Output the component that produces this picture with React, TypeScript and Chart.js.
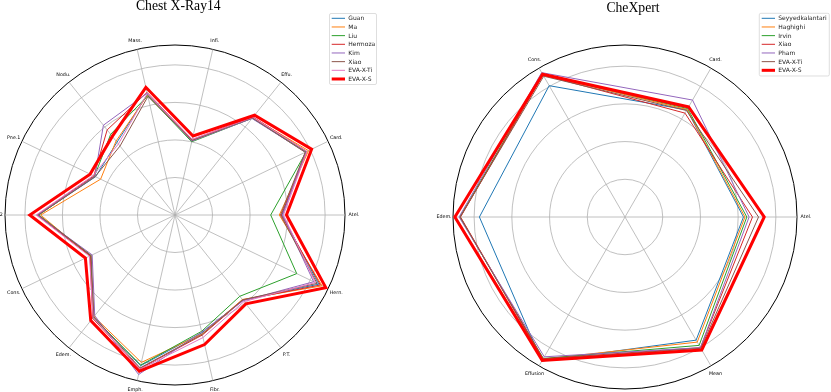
import React, { useEffect, useRef } from 'react';
import { Chart, registerables } from 'chart.js';

Chart.register(...registerables);

// ---------- Chest X-Ray14 (labels counter-clockwise from the right) ----------
const cxrLabels = ['Atel.', 'Card.', 'Effu.', 'Infi.', 'Mass.', 'Nodu.', 'Pne.1', 'Pne.2', 'Cons.', 'Edem.', 'Emph.', 'Fibr.', 'P.T.', 'Hern.'];
const cxrNames = ['Guan', 'Ma', 'Liu', 'Hermoza', 'Kim', 'Xiao', 'EVA-X-Ti', 'EVA-X-S'];
const cxrGuan = [0.785, 0.887, 0.830, 0.703, 0.830, 0.748, 0.735, 0.865, 0.750, 0.848, 0.912, 0.822, 0.790, 0.925];
const cxrMa = [0.778, 0.895, 0.832, 0.705, 0.828, 0.752, 0.720, 0.858, 0.752, 0.846, 0.903, 0.825, 0.788, 0.935];
const cxrLiu = [0.755, 0.888, 0.830, 0.700, 0.826, 0.775, 0.738, 0.863, 0.749, 0.850, 0.910, 0.818, 0.777, 0.860];
const cxrHermoza = [0.783, 0.890, 0.834, 0.706, 0.835, 0.790, 0.740, 0.868, 0.751, 0.852, 0.920, 0.828, 0.790, 0.930];
const cxrKim = [0.787, 0.886, 0.829, 0.702, 0.833, 0.806, 0.737, 0.867, 0.745, 0.843, 0.936, 0.820, 0.792, 0.910];
const cxrXiao = [0.781, 0.885, 0.831, 0.704, 0.824, 0.735, 0.736, 0.864, 0.748, 0.847, 0.918, 0.826, 0.789, 0.920];
const cxrEvaTi = [0.789, 0.890, 0.833, 0.707, 0.832, 0.742, 0.742, 0.870, 0.753, 0.850, 0.922, 0.835, 0.795, 0.915];
const cxrEvaS = [0.797, 0.904, 0.840, 0.716, 0.849, 0.768, 0.751, 0.887, 0.765, 0.860, 0.927, 0.854, 0.803, 0.946];
const cxrSeries = [cxrGuan, cxrMa, cxrLiu, cxrHermoza, cxrKim, cxrXiao, cxrEvaTi, cxrEvaS];
const cxrColors = ['#1f77b4', '#ff7f0e', '#2ca02c', '#d62728', '#9467bd', '#8c564b', '#e377c2', '#ff0000'];
const cxrMin = 0.5;
const cxrMax = 0.953;

// ---------- CheXpert ----------
const cxpLabels = ['Atel.', 'Card.', 'Cons.', 'Edem.', 'Effusion', 'Mean'];
const cxpNames = ['Seyyedkalantari', 'Haghighi', 'Irvin', 'Xiao', 'Pham', 'EVA-X-Ti', 'EVA-X-S'];
const cxpSeyyed = [0.814, 0.828, 0.902, 0.886, 0.941, 0.877];
const cxpHaghighi = [0.818, 0.829, 0.935, 0.937, 0.935, 0.883];
const cxpIrvin = [0.823, 0.832, 0.937, 0.938, 0.933, 0.893];
const cxpXiao = [0.838, 0.818, 0.935, 0.936, 0.934, 0.900];
const cxpPham = [0.829, 0.858, 0.942, 0.940, 0.928, 0.900];
const cxpEvaTi = [0.854, 0.826, 0.931, 0.937, 0.936, 0.902];
const cxpEvaS = [0.869, 0.837, 0.937, 0.951, 0.939, 0.907];
const cxpSeries = [cxpSeyyed, cxpHaghighi, cxpIrvin, cxpXiao, cxpPham, cxpEvaTi, cxpEvaS];
const cxpColors = ['#1f77b4', '#ff7f0e', '#2ca02c', '#d62728', '#9467bd', '#8c564b', '#ff0000'];
const cxpMin = 0.5;
const cxpMax = 0.956;

const gridStep = 0.1;

// Chart.js goes clockwise; the reference goes counter-clockwise from the right.
const toClockwise = <T,>(a: T[]): T[] => [a[0], ...a.slice(1).reverse()];

type Layout = {
  width: number;
  height: number;
  padding: { left: number; right: number; top: number; bottom: number };
  title: string;
  titleX: number;
  titleY: number;
  legendBox: { x: number; y: number; w: number; h: number };
  legendRow0: number;
  legendRowStep: number;
  legendLineX0: number;
  legendLineX1: number;
  legendTextX: number;
};

function overlayPlugin(layout: Layout) {
  return {
    id: 'overlay',
    afterDraw(chart: any) {
      const ctx = chart.ctx;
      const scale = chart.scales.r;
      ctx.save();
      // point labels
      ctx.font = '4.8px "DejaVu Sans"';
      ctx.fillStyle = '#000';
      ctx.textAlign = 'center';
      ctx.textBaseline = 'middle';
      (chart.data.labels as string[]).forEach((lab, i) => {
        const p = scale.getPointPosition(i, scale.drawingArea + 9);
        ctx.fillText(lab, p.x, p.y);
      });
      // title
      ctx.font = '13.7px "Liberation Serif"';
      ctx.textBaseline = 'alphabetic';
      ctx.textAlign = 'center';
      ctx.fillStyle = '#000';
      ctx.fillText(layout.title, layout.titleX, layout.titleY);
      // legend
      const b = layout.legendBox;
      ctx.fillStyle = 'rgba(255,255,255,0.85)';
      ctx.strokeStyle = '#d0d0d0';
      ctx.lineWidth = 0.7;
      ctx.beginPath();
      if (ctx.roundRect) ctx.roundRect(b.x, b.y, b.w, b.h, 1.5);
      else ctx.rect(b.x, b.y, b.w, b.h);
      ctx.fill();
      ctx.stroke();
      ctx.font = '6px "DejaVu Sans"';
      ctx.textAlign = 'left';
      ctx.textBaseline = 'middle';
      chart.data.datasets.forEach((ds: any, i: number) => {
        const y = layout.legendRow0 + i * layout.legendRowStep;
        ctx.strokeStyle = ds.borderColor;
        ctx.lineWidth = ds.borderWidth;
        ctx.beginPath();
        ctx.moveTo(layout.legendLineX0, y);
        ctx.lineTo(layout.legendLineX1, y);
        ctx.stroke();
        ctx.fillStyle = '#222';
        ctx.fillText(ds.label, layout.legendTextX, y + 0.3);
      });
      ctx.restore();
    },
  };
}

function RadarCanvas(props: {
  labels: string[];
  names: string[];
  series: number[][];
  colors: string[];
  min: number;
  max: number;
  layout: Layout;
  style: React.CSSProperties;
}) {
  const ref = useRef<HTMLCanvasElement | null>(null);
  useEffect(() => {
    if (!ref.current) return;
    const { labels, names, series, colors, min, max, layout } = props;
    const n = series.length;
    const chart = new Chart(ref.current, {
      type: 'radar',
      data: {
        labels: toClockwise(labels),
        datasets: series.map((s, i) => ({
          label: names[i],
          data: toClockwise(s),
          borderColor: colors[i],
          backgroundColor: 'transparent',
          borderWidth: i === n - 1 ? 3 : 1,
          pointRadius: 0,
          pointHoverRadius: 0,
          fill: false,
          tension: 0,
          order: n - i,
        })),
      },
      options: {
        responsive: false,
        animation: false,
        devicePixelRatio: 1,
        layout: { padding: layout.padding },
        plugins: {
          legend: { display: false },
          title: { display: false },
          tooltip: { enabled: false },
        },
        elements: { line: { borderJoinStyle: 'miter' } },
        scales: {
          r: {
            min,
            max,
            startAngle: 90,
            ticks: { display: false, stepSize: gridStep },
            pointLabels: { display: false },
            angleLines: { display: true, color: '#b0b0b0', lineWidth: 0.8 },
            grid: {
              circular: true,
              color: (c: any) => (c.tick && c.tick.value > max - 0.02 ? '#000000' : '#b0b0b0'),
              lineWidth: (c: any) => (c.tick && c.tick.value > max - 0.02 ? 1 : 0.8),
            },
          },
        },
      },
      plugins: [overlayPlugin(layout)],
    } as any);
    return () => chart.destroy();
  }, []);
  return <canvas ref={ref} width={props.layout.width} height={props.layout.height} style={props.style} />;
}

const leftLayout: Layout = {
  width: 415,
  height: 392,
  padding: { left: 5, right: 70, top: 45, bottom: 7 },
  title: 'Chest X-Ray14',
  titleX: 178.3,
  titleY: 9.8,
  legendBox: { x: 329.5, y: 13.5, w: 47, h: 71 },
  legendRow0: 18.3,
  legendRowStep: 8.67,
  legendLineX0: 331.7,
  legendLineX1: 345,
  legendTextX: 348.3,
};

const rightLayout: Layout = {
  width: 416,
  height: 392,
  padding: { left: 38, right: 34, top: 45, bottom: 3 },
  title: 'CheXpert',
  titleX: 218,
  titleY: 12.3,
  legendBox: { x: 344.3, y: 13.3, w: 70, h: 62.7 },
  legendRow0: 18.3,
  legendRowStep: 8.67,
  legendLineX0: 346.7,
  legendLineX1: 360,
  legendTextX: 363.3,
};

export default function App() {
  return (
    <div style={{ position: 'fixed', left: 0, top: 0, width: 831, height: 392, background: '#fff', overflow: 'hidden' }}>
      <RadarCanvas
        labels={cxrLabels}
        names={cxrNames}
        series={cxrSeries}
        colors={cxrColors}
        min={cxrMin}
        max={cxrMax}
        layout={leftLayout}
        style={{ position: 'absolute', left: 0, top: 0 }}
      />
      <RadarCanvas
        labels={cxpLabels}
        names={cxpNames}
        series={cxpSeries}
        colors={cxpColors}
        min={cxpMin}
        max={cxpMax}
        layout={rightLayout}
        style={{ position: 'absolute', left: 415, top: 0 }}
      />
    </div>
  );
}
